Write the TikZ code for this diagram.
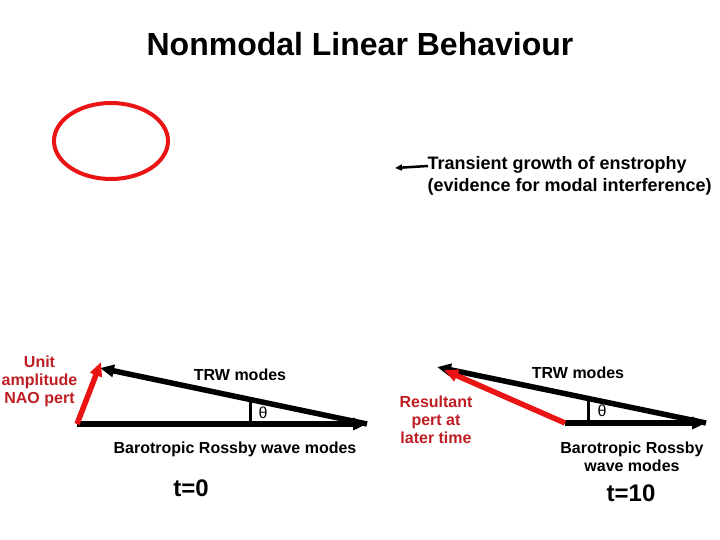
\documentclass[tikz,border=0pt]{standalone}
\usepackage{fontspec}
\setmainfont{Liberation Sans}
\usepackage{xcolor}
\usetikzlibrary{positioning,calc,arrows.meta}
\definecolor{vecRed}{RGB}{235,20,20}
\definecolor{labelRed}{RGB}{190,30,35}
\tikzset{
    vec/.style={
        -{Triangle[length=14pt,width=12pt]},
        line width=5.5pt
    },
    redvec/.style={
        vec,
        vecRed
    },
    lbl/.style={
        font=\fontsize{16}{18}\selectfont\bfseries,
        align=center
    },
    redlbl/.style={
        lbl,
        labelRed
    },
    timelbl/.style={
        font=\fontsize{24}{27}\selectfont\bfseries
    }
}

\begin{document}
\begin{tikzpicture}[x=1pt,y=-1pt]
    \useasboundingbox (0,0) rectangle (720,540);

    % 1. Tieu de va ellipse
    \node (title) at (360,44) {\fontsize{32}{36}\selectfont\bfseries Nonmodal Linear Behaviour};
    \draw[vecRed, line width=4pt] (111,141) ellipse [x radius=57, y radius=38];

    % 2. Chu thich tang truong
    \node[anchor=west, align=left, font=\fontsize{18}{22}\selectfont\bfseries] (growth) at (424,176)
        {Transient growth of enstrophy\\(evidence for modal interference)};
    \coordinate (gtail) at (428,166);
    \coordinate (ghead) at (395,168);
    \draw[-{Triangle[length=7pt,width=6pt]}, line width=2.5pt] (gtail) -- (ghead);

    % 3. Hinh ben trai: t=0
    \coordinate (o0) at (77,424);
    \coordinate (brw0) at (367,424);
    \coordinate (trw0) at (100,368);
    \coordinate (nao0) at (101,362);
    \coordinate (m0) at ($(brw0)!0.436!(trw0)$);
    \draw[vec] (o0) -- (brw0);
    \draw[vec] (brw0) -- (trw0);
    \draw[line width=3pt] (m0) -- (m0 |- o0);
    \draw[redvec] (o0) -- (nao0);
    \node[redlbl] (unit) at (39.5,381) {Unit\\amplitude\\NAO pert};
    \node[lbl] (trwlbl0) at (240,375) {TRW modes};
    \node[lbl, font=\fontsize{16}{18}\selectfont] (theta0) at (263,413) {θ};
    \node[lbl] (brwlbl0) at (235,449) {Barotropic Rossby wave modes};
    \node[timelbl] (t0) at (191,488) {t=0};

    % 4. Hinh ben phai: t=10
    \coordinate (o1) at (565,423);
    \coordinate (brw1) at (706,423);
    \coordinate (trw1) at (437,367);
    \coordinate (res1) at (444,370);
    \coordinate (m1) at ($(brw1)!0.438!(trw1)$);
    \draw[vec] (o1) -- (brw1);
    \draw[vec] (brw1) -- (trw1);
    \draw[line width=3pt] (m1) -- (m1 |- o1);
    \draw[redvec] (o1) -- (res1);
    \node[redlbl] (result) at (436,420) {Resultant\\pert at\\later time};
    \node[lbl] (trwlbl1) at (578,373) {TRW modes};
    \node[lbl, font=\fontsize{16}{18}\selectfont] (theta1) at (602,411) {θ};
    \node[lbl] (brwlbl1) at (632,457) {Barotropic Rossby\\wave modes};
    \node[timelbl] (t10) at (631,493) {t=10};
\end{tikzpicture}
\end{document}
